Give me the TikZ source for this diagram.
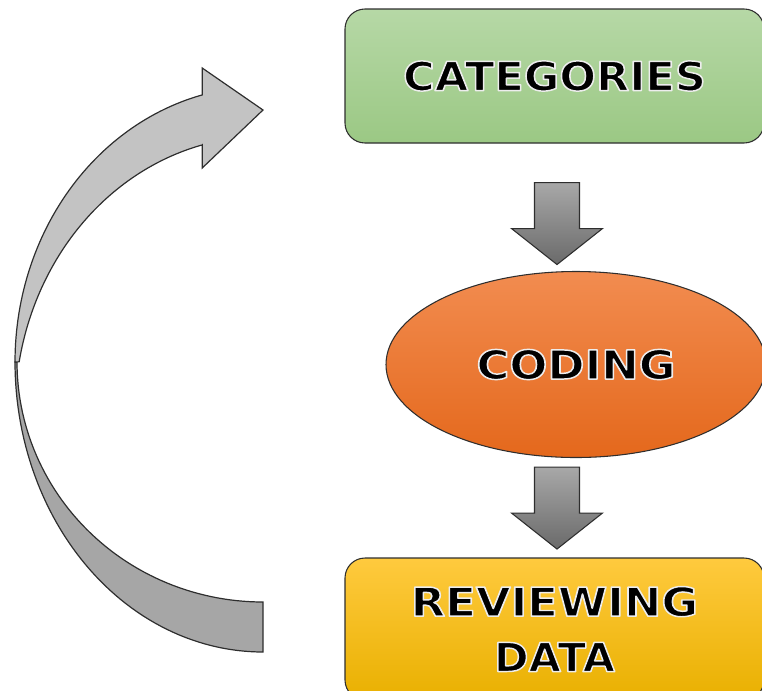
\documentclass[tikz,border=0pt]{standalone}
\usepackage{fontspec}
\setmainfont{DejaVu Sans}
\usepackage{graphicx}
\usetikzlibrary{shapes.geometric,calc}
\definecolor{greentop}{HTML}{B6D8A6}
\definecolor{greenbot}{HTML}{9BC884}
\definecolor{orangetop}{HTML}{F28C50}
\definecolor{orangebot}{HTML}{E4681C}
\definecolor{yellowtop}{HTML}{FFCA3E}
\definecolor{yellowmid}{HTML}{FFC000}
\definecolor{yellowbot}{HTML}{E9B000}
\definecolor{arrowtop}{HTML}{A8A8A8}
\definecolor{arrowbot}{HTML}{6A6A6A}
\definecolor{frontgray}{HTML}{C3C3C3}
\definecolor{backgray}{HTML}{A6A6A6}
\definecolor{edge}{HTML}{2E2E2E}
% black caption text with a thin light outline (fill + stroke rendering mode)
\newcommand\wordart[2][1.09]{\scalebox{#1}[1]{\special{pdf:literal direct 0.93 0.93 0.93 RG 1.1 w 1 j 2 Tr}#2\special{pdf:literal direct 0 Tr}}}

\begin{document}
\begin{tikzpicture}[x=0.75pt,y=-0.75pt,
  every node/.style={font=\fontsize{30}{42}\selectfont\bfseries},
  stage/.style={draw=edge, line width=0.8pt, inner sep=0pt},
  boxstage/.style={stage, rectangle, rounded corners=15pt, minimum width=314.25pt},
  blockarrow/.style={draw=edge, line width=0.8pt, top color=arrowtop, bottom color=arrowbot},
  band/.style={draw=edge, line width=0.9pt, line join=miter},
  downarrow/.pic={
    \path[blockarrow] (-22.5,0) -- (22.5,0) -- (22.5,46) -- (45.5,46)
      -- (0,82) -- (-45.5,46) -- (-22.5,46) -- cycle;
  }]
\useasboundingbox (0,0) rectangle (762,690);
\clip (0,0) rectangle (762,690);

% process stages
\node[boxstage, top color=greentop, bottom color=greenbot, minimum height=100.5pt]
  (cat) at (554.5,76) {\wordart[1.08]{CATEGORIES}};
\node[stage, ellipse, top color=orangetop, bottom color=orangebot,
  minimum width=285pt, minimum height=139.5pt]
  (cod) at (576,364.5) {\wordart[1.12]{CODING}};
\node[boxstage, top color=yellowtop, middle color=yellowmid, bottom color=yellowbot,
  minimum height=106.5pt, align=center]
  (rev) at (554.5,629) {\wordart[1.12]{REVIEWING}\\[-0.5pt]\wordart[1.04]{DATA}};

% block arrows between the stages
\path (cat.south) ++(2.5,39) pic {downarrow};
\path (cod.south) ++(-19,9) pic {downarrow};

% curved return arrow: back band from the bottom stage
\path[band, fill=backgray]
  plot[domain=180:90, variable=\t, samples=60] ({263+248*cos(\t)},{362+290*sin(\t)})
  -- plot[domain=90:180, variable=\t, samples=60] ({263+246*cos(\t)},{362+240*sin(\t)})
  -- cycle;
% front band with its head pointing at the top stage
\path[band, fill=frontgray]
  plot[domain=180:255.8, variable=\t, samples=60] ({263+248*cos(\t)},{362+275.5*sin(\t)})
  -- (202.2,68) -- (263,110) -- (202.2,168) -- (202.2,144.9)
  -- plot[domain=255.8:190.5, variable=\t, samples=60] ({263+248*cos(\t)},{412+275.5*sin(\t)})
  -- cycle;
\end{tikzpicture}
\end{document}
